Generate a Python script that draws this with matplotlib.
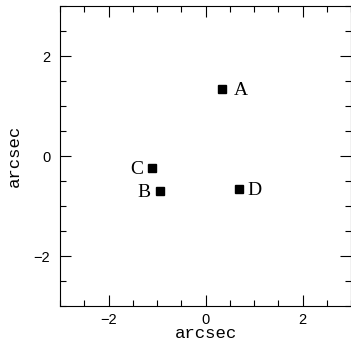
import matplotlib
matplotlib.use("Agg")
import matplotlib.pyplot as plt
from matplotlib.ticker import MultipleLocator

# Component positions (arcsec)
names = ["A", "B", "C", "D"]
x_pos = [0.35, -0.93, -1.10, 0.69]
y_pos = [1.35, -0.69, -0.23, -0.65]

# Label placement relative to each marker (pixels)
label_dx = [11, -10, -9, 8]
label_ha = ["left", "right", "right", "left"]

fig = plt.figure(figsize=(3.51, 3.48), dpi=100)
ax = fig.add_axes([60 / 351, 42 / 348, 291 / 351, 300 / 348])

ax.plot(x_pos, y_pos, linestyle="none", marker="s", markersize=5.4,
        color="black")

for n, x, y, dx, ha in zip(names, x_pos, y_pos, label_dx, label_ha):
    ax.annotate(n, (x, y), xytext=(dx, -6.5), textcoords="offset pixels",
                ha=ha, va="baseline", fontsize=14,
                family="Liberation Serif")

ax.set_xlim(-3, 3)
ax.set_ylim(-3, 3)
ax.xaxis.set_major_locator(MultipleLocator(2))
ax.xaxis.set_minor_locator(MultipleLocator(0.5))
ax.yaxis.set_major_locator(MultipleLocator(2))
ax.yaxis.set_minor_locator(MultipleLocator(0.5))

ax.tick_params(which="both", direction="in", top=True, right=True,
               width=0.8, color="black")
ax.tick_params(which="major", length=7.7, labelsize=10.5)
ax.tick_params(axis="x", which="major", pad=5)
ax.tick_params(axis="y", which="major", pad=7)
ax.tick_params(which="minor", length=4.3)
for lab in ax.get_xticklabels() + ax.get_yticklabels():
    lab.set_family("Liberation Sans")
for s in ax.spines.values():
    s.set_linewidth(0.8)

ax.set_xlabel("arcsec", family="Liberation Mono", fontsize=12.5,
              va="baseline")
ax.xaxis.set_label_coords(0.5, -0.108)
ax.set_ylabel("arcsec", family="Liberation Mono", fontsize=12.5,
              va="baseline")
ax.yaxis.set_label_coords(-0.143, 0.5)

fig.savefig("out.png", dpi=100)
